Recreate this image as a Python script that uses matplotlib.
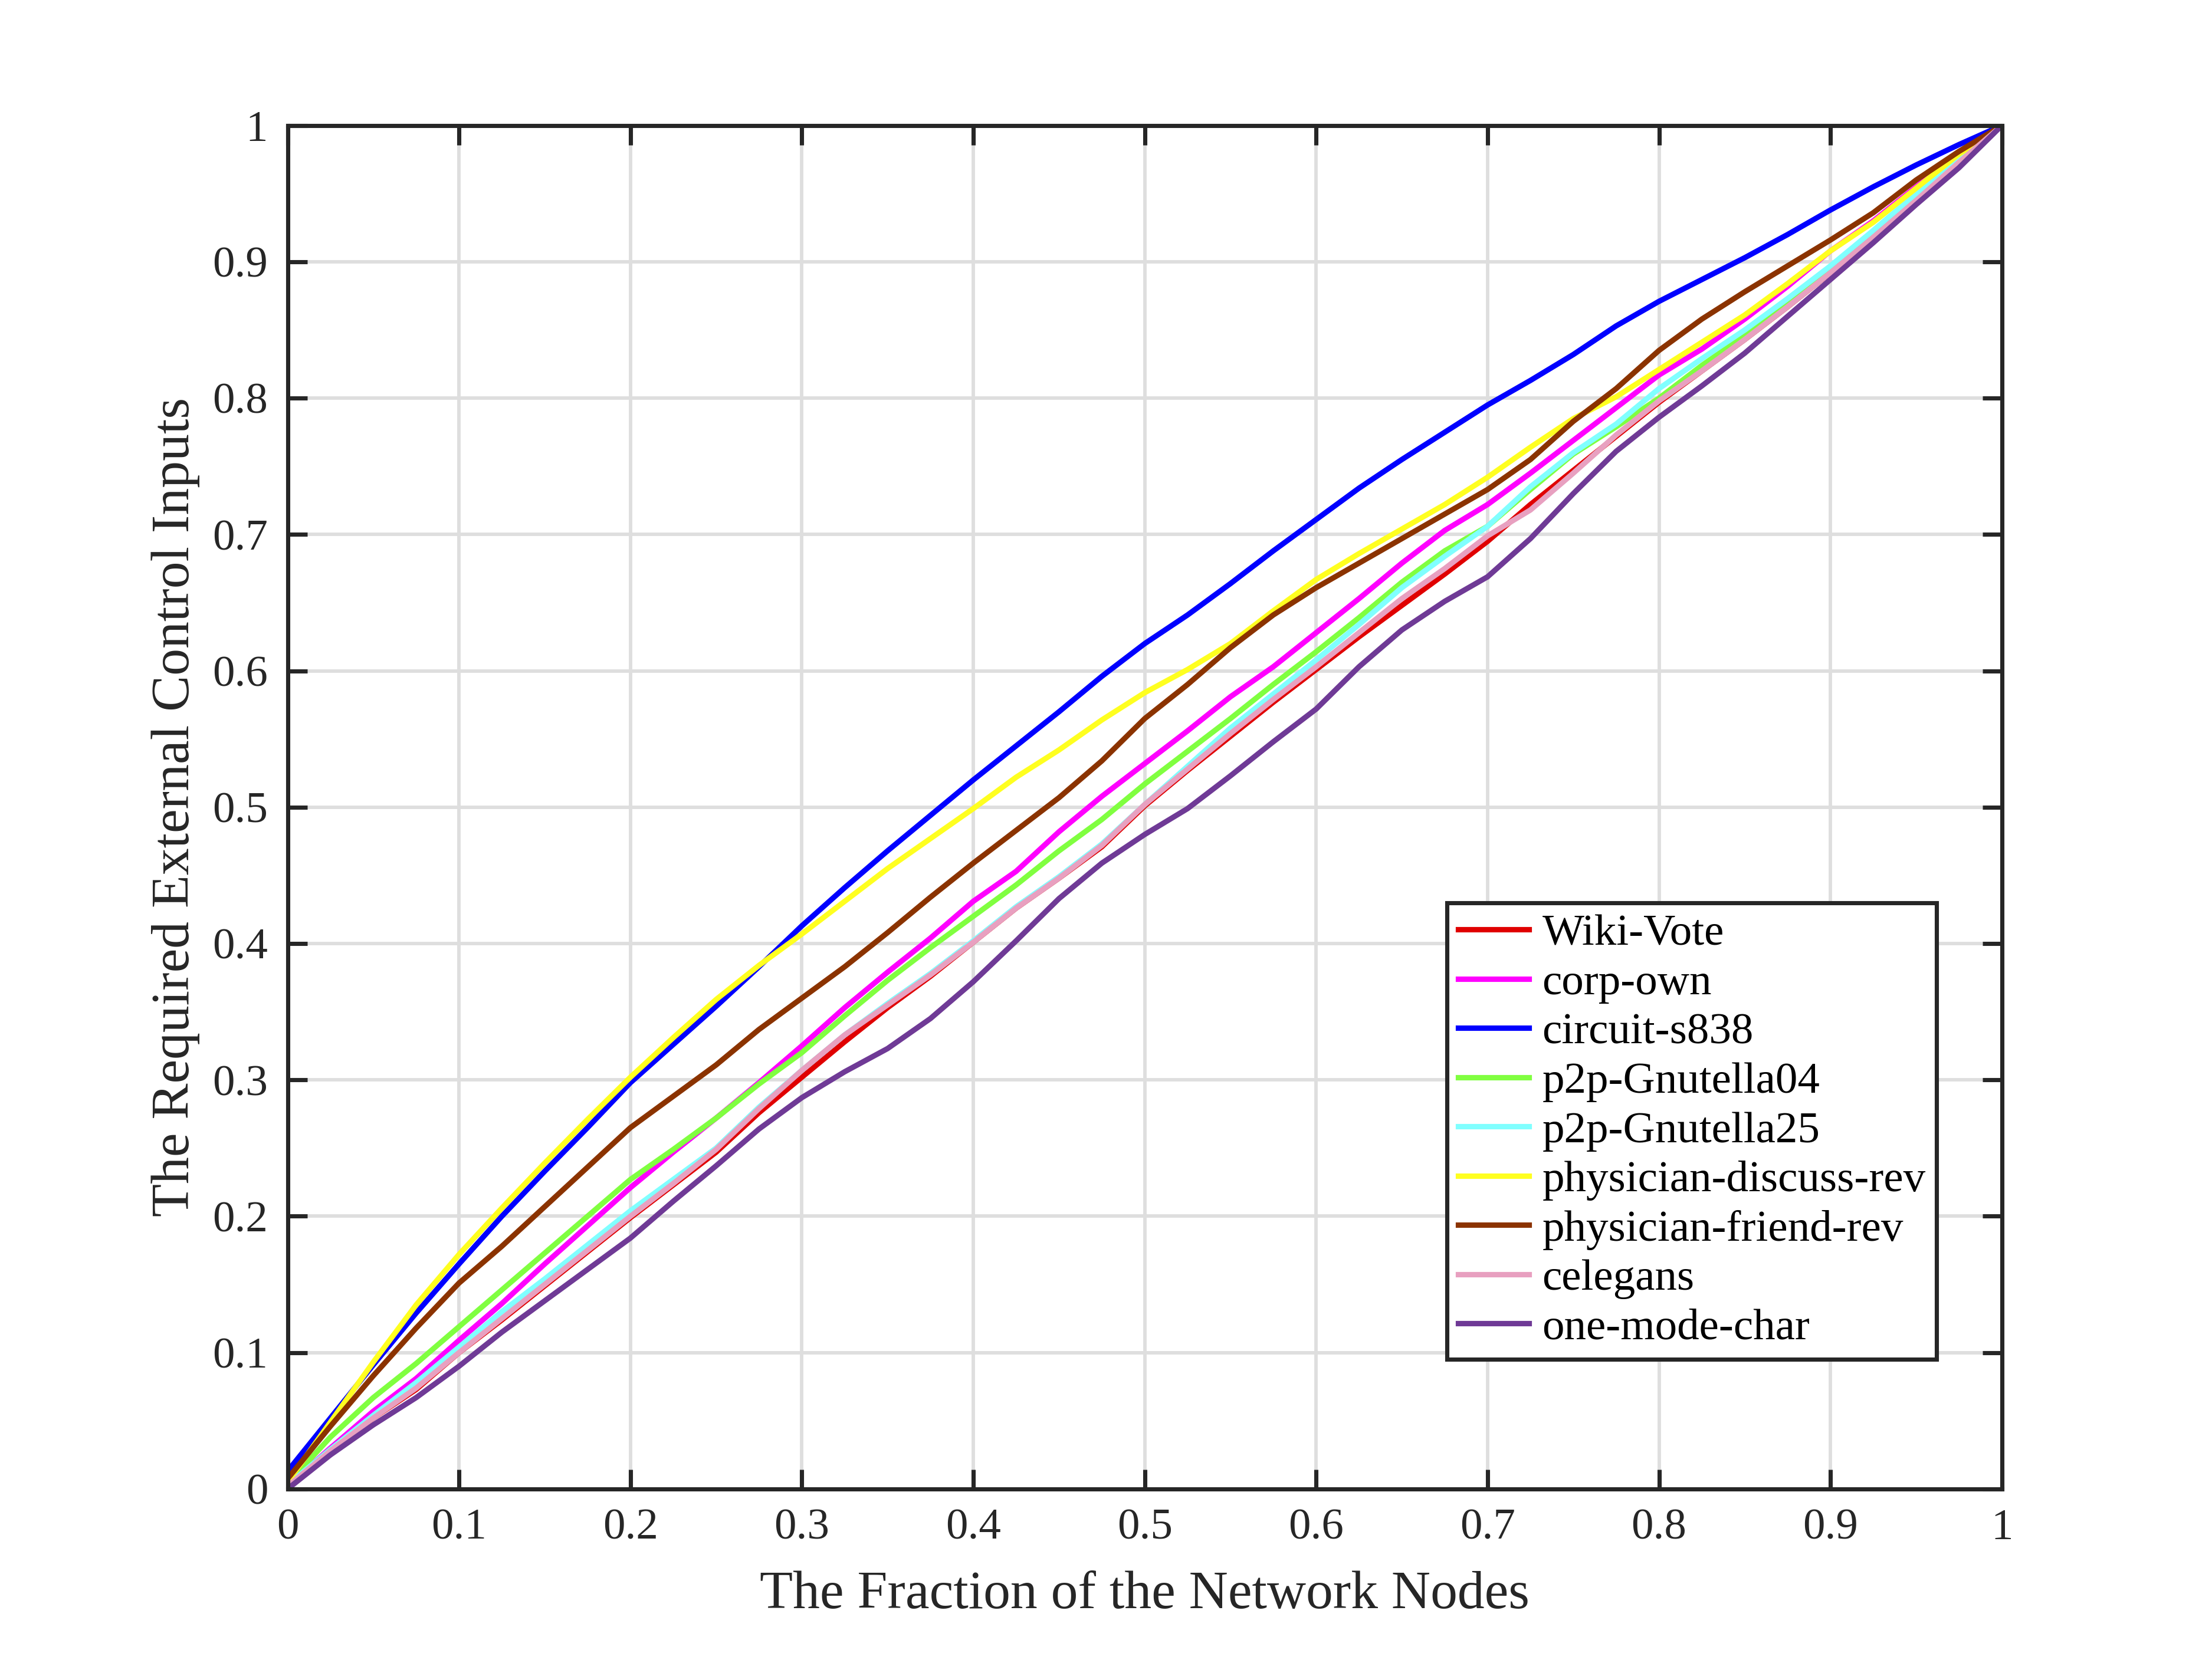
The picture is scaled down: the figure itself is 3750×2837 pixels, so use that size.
import numpy as np
import matplotlib
matplotlib.use("Agg")
import matplotlib.pyplot as plt
from matplotlib.ticker import FuncFormatter

plt.rcParams['font.family'] = ['Liberation Serif', 'DejaVu Serif']

# fraction of network nodes (0 to 1, step 0.025)
x = [0.0, 0.025, 0.05, 0.075, 0.1, 0.125, 0.15, 0.175, 0.2, 0.225,
     0.25, 0.275, 0.3, 0.325, 0.35, 0.375, 0.4, 0.425, 0.45, 0.475,
     0.5, 0.525, 0.55, 0.575, 0.6, 0.625, 0.65, 0.675, 0.7, 0.725,
     0.75, 0.775, 0.8, 0.825, 0.85, 0.875, 0.9, 0.925, 0.95, 0.975, 1.0]

wiki_vote = [0.002, 0.027, 0.052, 0.073, 0.100, 0.124, 0.149, 0.174, 0.199, 0.223,
             0.247, 0.276, 0.302, 0.328, 0.353, 0.376, 0.401, 0.426, 0.448, 0.471,
             0.501, 0.527, 0.552, 0.577, 0.601, 0.625, 0.648, 0.671, 0.695, 0.722,
             0.747, 0.772, 0.797, 0.820, 0.843, 0.867, 0.892, 0.918, 0.945, 0.973, 1.0]
corp_own = [0.002, 0.030, 0.057, 0.081, 0.109, 0.136, 0.165, 0.193, 0.221, 0.247,
            0.272, 0.298, 0.325, 0.353, 0.379, 0.404, 0.431, 0.453, 0.482, 0.508,
            0.532, 0.556, 0.581, 0.603, 0.628, 0.653, 0.679, 0.703, 0.722, 0.745,
            0.769, 0.793, 0.817, 0.836, 0.858, 0.882, 0.908, 0.930, 0.955, 0.979, 1.0]
circuit_s838 = [0.013, 0.052, 0.091, 0.129, 0.165, 0.200, 0.233, 0.265, 0.298, 0.326,
                0.354, 0.383, 0.413, 0.441, 0.468, 0.494, 0.520, 0.545, 0.570, 0.596,
                0.620, 0.641, 0.664, 0.688, 0.711, 0.734, 0.755, 0.775, 0.795, 0.813,
                0.832, 0.853, 0.871, 0.887, 0.903, 0.920, 0.938, 0.955, 0.971, 0.986, 1.0]
gnutella04 = [0.004, 0.038, 0.067, 0.092, 0.119, 0.146, 0.173, 0.200, 0.227, 0.249,
              0.272, 0.297, 0.320, 0.347, 0.373, 0.397, 0.420, 0.443, 0.468, 0.491,
              0.517, 0.541, 0.565, 0.590, 0.614, 0.639, 0.665, 0.688, 0.706, 0.733,
              0.759, 0.779, 0.800, 0.824, 0.846, 0.869, 0.893, 0.920, 0.947, 0.974, 1.0]
gnutella25 = [0.003, 0.029, 0.054, 0.078, 0.104, 0.130, 0.154, 0.179, 0.204, 0.227,
              0.250, 0.280, 0.307, 0.333, 0.356, 0.378, 0.402, 0.427, 0.449, 0.473,
              0.502, 0.530, 0.558, 0.583, 0.608, 0.634, 0.661, 0.684, 0.706, 0.735,
              0.760, 0.781, 0.807, 0.829, 0.850, 0.873, 0.897, 0.923, 0.950, 0.976, 1.0]
discuss_rev = [0.005, 0.049, 0.093, 0.135, 0.172, 0.206, 0.239, 0.271, 0.302, 0.331,
               0.359, 0.384, 0.407, 0.431, 0.455, 0.477, 0.499, 0.522, 0.542, 0.564,
               0.584, 0.601, 0.620, 0.644, 0.667, 0.686, 0.704, 0.722, 0.742, 0.764,
               0.785, 0.801, 0.821, 0.841, 0.861, 0.884, 0.908, 0.929, 0.954, 0.979, 1.0]
friend_rev = [0.0075, 0.046, 0.083, 0.118, 0.151, 0.178, 0.207, 0.236, 0.265, 0.288,
              0.311, 0.337, 0.360, 0.383, 0.408, 0.434, 0.459, 0.483, 0.507, 0.534,
              0.565, 0.590, 0.617, 0.641, 0.661, 0.679, 0.697, 0.715, 0.733, 0.755,
              0.783, 0.807, 0.835, 0.858, 0.878, 0.897, 0.916, 0.936, 0.960, 0.981, 1.0]
celegans = [0.002, 0.028, 0.052, 0.074, 0.100, 0.125, 0.150, 0.175, 0.200, 0.224,
            0.249, 0.279, 0.307, 0.333, 0.355, 0.377, 0.401, 0.426, 0.448, 0.472,
            0.502, 0.528, 0.554, 0.579, 0.603, 0.628, 0.653, 0.675, 0.699, 0.718,
            0.745, 0.773, 0.798, 0.820, 0.843, 0.867, 0.892, 0.918, 0.945, 0.973, 1.0]
one_mode_char = [0.0, 0.025, 0.047, 0.067, 0.090, 0.115, 0.138, 0.161, 0.184, 0.211,
                 0.237, 0.264, 0.287, 0.306, 0.323, 0.345, 0.372, 0.402, 0.433, 0.459,
                 0.480, 0.499, 0.523, 0.548, 0.572, 0.603, 0.630, 0.651, 0.669, 0.697,
                 0.730, 0.761, 0.786, 0.809, 0.833, 0.860, 0.887, 0.914, 0.942, 0.969, 1.0]

series = [
    ('Wiki-Vote', wiki_vote, '#e00000'),
    ('corp-own', corp_own, '#ff00ff'),
    ('circuit-s838', circuit_s838, '#0000ff'),
    ('p2p-Gnutella04', gnutella04, '#80ff40'),
    ('p2p-Gnutella25', gnutella25, '#80ffff'),
    ('physician-discuss-rev', discuss_rev, '#ffff20'),
    ('physician-friend-rev', friend_rev, '#8b3300'),
    ('celegans', celegans, '#e8a0c0'),
    ('one-mode-char', one_mode_char, '#6f3a96'),
]

ticks = [0, 0.1, 0.2, 0.3, 0.4, 0.5, 0.6, 0.7, 0.8, 0.9, 1]
axcol = '#262626'

fig = plt.figure(figsize=(12.5, 2837 / 300), dpi=300)
ax = fig.add_axes([0.13, 0.11, 0.775, 0.815])

for name, vals, col in series:
    ax.plot(x, vals, color=col, linewidth=2.2, label=name,
            solid_joinstyle='round')

ax.set_xlim(0, 1)
ax.set_ylim(0, 1)
ax.set_xticks(ticks)
ax.set_yticks(ticks)
fmt = FuncFormatter(lambda v, p: '%g' % v)
ax.xaxis.set_major_formatter(fmt)
ax.yaxis.set_major_formatter(fmt)
ax.grid(True, color='#dedede', linewidth=1.4)
ax.set_axisbelow(True)
ax.tick_params(direction='in', length=8, width=1.7, top=True, right=True,
               labelsize=18, colors=axcol, pad=8)
for s in ax.spines.values():
    s.set_linewidth(1.7)
    s.set_color(axcol)

ax.set_xlabel('The Fraction of the Network Nodes', fontsize=22, color=axcol, labelpad=9)
ax.set_ylabel('The Required External Control Inputs', fontsize=22, color=axcol, labelpad=5)

leg = ax.legend(loc='lower right', bbox_to_anchor=(0.962, 0.095), fontsize=18,
                frameon=True, fancybox=False, framealpha=1, edgecolor=axcol,
                handlelength=1.6, handletextpad=0.3, labelspacing=0.2,
                borderpad=0.25, borderaxespad=0.0)
leg.get_frame().set_linewidth(1.7)

fig.savefig('out.png', dpi=300, facecolor='white')
